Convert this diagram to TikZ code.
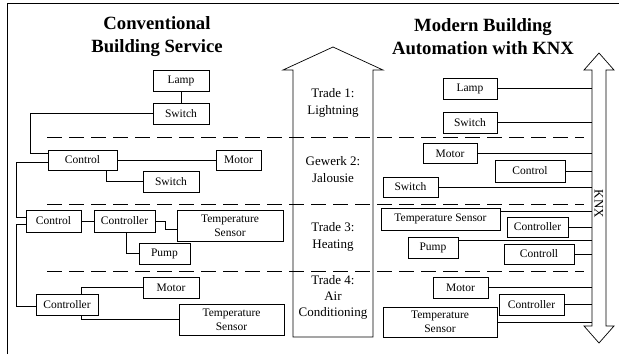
\documentclass[tikz,border=0pt]{standalone}
\usepackage{fontspec}
\setmainfont{Liberation Serif}
\usetikzlibrary{positioning}

\begin{document}
\begin{tikzpicture}[x=1pt,y=-1pt,line width=0.7pt,
   box/.style={draw,minimum height=21pt,inner sep=1pt,font=\fontsize{11.5}{14}\selectfont,align=center},
   trade/.style={align=center,font=\fontsize{13}{17}\selectfont},
   title/.style={align=center,font=\fontsize{18.7}{23}\selectfont\bfseries},
   section/.style={dash pattern=on 15pt off 7pt}]
 \useasboundingbox (0,0) rectangle (619,354);
 \draw (7,354) -- (7,3) -- (619,3);
 \node[title] (lefttitle) at (157,36.5) {Conventional\\Building Service};
 \node[title] (righttitle) at (483,36.5) {Modern Building\\Automation with KNX};
 % trades
 \draw (293,337) -- (293,70) -- (283,70) -- (333,47) -- (383,70) -- (373,70) -- (373,337) -- cycle;
 \node[trade] (trade1) at (333,102.5) {Trade 1:\\Lightning};
 \node[trade] (trade2) at (333,170) {Gewerk 2:\\Jalousie};
 \node[trade] (trade3) at (333,236.5) {Trade 3:\\Heating};
 \node[trade,font=\fontsize{13}{16}\selectfont] (trade4) at (333,297.5) {Trade 4:\\Air\\Conditioning};
 \foreach \y in {137,204,271} \draw[section] (47,\y) -- (584,\y);
 % KNX bus
 \draw (592,326) -- (592,70) -- (584,70) -- (599,53) -- (614,70) -- (606,70) -- (606,326) -- (614,326) -- (599,343) -- (584,326) -- cycle;
 \coordinate (bus) at (592,0);
 \node[font=\fontsize{13}{15}\selectfont,rotate=-90] (knx) at (599,204) {KNX};
 % conventional
 \node[box,minimum width=56pt] (lLamp) at (181,80.5) {Lamp};
 \node[box,minimum width=56pt] (lSwitch) at (181,113.5) {Switch};
 \node[box,minimum width=69pt,minimum height=20pt] (gControl) at (82.5,160) {Control};
 \node[box,minimum width=45pt,minimum height=20pt] (gMotor) at (238.5,160) {Motor};
 \node[box,minimum width=56pt] (gSwitch) at (171,181.5) {Switch};
 \node[box,minimum width=55pt,minimum height=22pt] (hControl) at (53.5,221) {Control};
 \node[box,minimum width=61pt,minimum height=22pt] (hController) at (124.5,221) {Controller};
 \node[box,minimum width=106pt,minimum height=31pt] (hSensor) at (230,225.5) {Temperature\\Sensor};
 \node[box,minimum width=51pt] (hPump) at (164.5,253.5) {Pump};
 \node[box,minimum width=56pt] (aMotor) at (171,287.5) {Motor};
 \node[box,minimum width=62pt] (aController) at (67,304.5) {Controller};
 \node[box,minimum width=105pt,minimum height=31pt] (aSensor) at (231.5,319.5) {Temperature\\Sensor};
 \draw (lLamp) -- (lSwitch);
 \draw (lSwitch.west) -- ++(-122,0) |- ([yshift=-4pt]gControl.north west);
 \draw (gControl) -- (gMotor);
 \draw ([xshift=23.5pt]gControl.south) |- (gSwitch.west);
 \draw ([yshift=-2pt]gControl.west) -- ++(-31,0) |- ([yshift=4pt]hControl.west);
 \draw ([yshift=-3pt]hControl.west) -- ++(-9,0) |- ([yshift=-2pt]aController.west);
 \draw (hControl) -- (hController);
 \draw (hController.east) -- ++(10,0) |- ([yshift=-3.5pt]hSensor.west);
 \draw ([xshift=1.5pt]hController.south) |- (hPump.west);
 \draw ([xshift=14pt]aController.north) |- (aMotor.west);
 \draw ([xshift=14pt]aController.south) |- (aSensor.west);
 % KNX
 \node[box,minimum width=54pt] (rLamp) at (470,88.5) {Lamp};
 \node[box,minimum width=54pt] (rSwitch) at (470,122.5) {Switch};
 \node[box,minimum width=54pt,minimum height=20pt] (rMotor) at (450,153.5) {Motor};
 \node[box,minimum width=70pt,minimum height=22pt] (rControl) at (530,171) {Control};
 \node[box,minimum width=55pt,minimum height=20pt] (rSwitchB) at (410.5,187) {Switch};
 \node[box,minimum width=119pt,minimum height=22pt] (rSensorH) at (440.5,219) {Temperature Sensor};
 \node[box,minimum width=61pt,minimum height=20pt] (rControllerH) at (537.5,227) {Controller};
 \node[box,minimum width=50pt] (rPump) at (433,247.5) {Pump};
 \node[box,minimum width=70pt,minimum height=20pt] (rControll) at (539,254) {Controll};
 \node[box,minimum width=55pt] (rMotorA) at (460.5,287.5) {Motor};
 \node[box,minimum width=65pt] (rControllerA) at (531.5,304.5) {Controller};
 \node[box,minimum width=114pt,minimum height=30pt] (rSensorA) at (440,322) {Temperature\\Sensor};
 \foreach \n in {rLamp,rSwitch,rMotor,rControl,rSwitchB,rControllerH,rControll,rMotorA,rControllerA,rSensorA}
   \draw (\n.east) -- (\n.east -| bus);
 \draw ([yshift=-4pt]rSensorH.north east) -- ([yshift=-4pt]rSensorH.north east -| bus);
 \draw ([yshift=-4pt]rPump.north east) -- ([yshift=-4pt]rPump.north east -| bus);
\end{tikzpicture}
\end{document}
